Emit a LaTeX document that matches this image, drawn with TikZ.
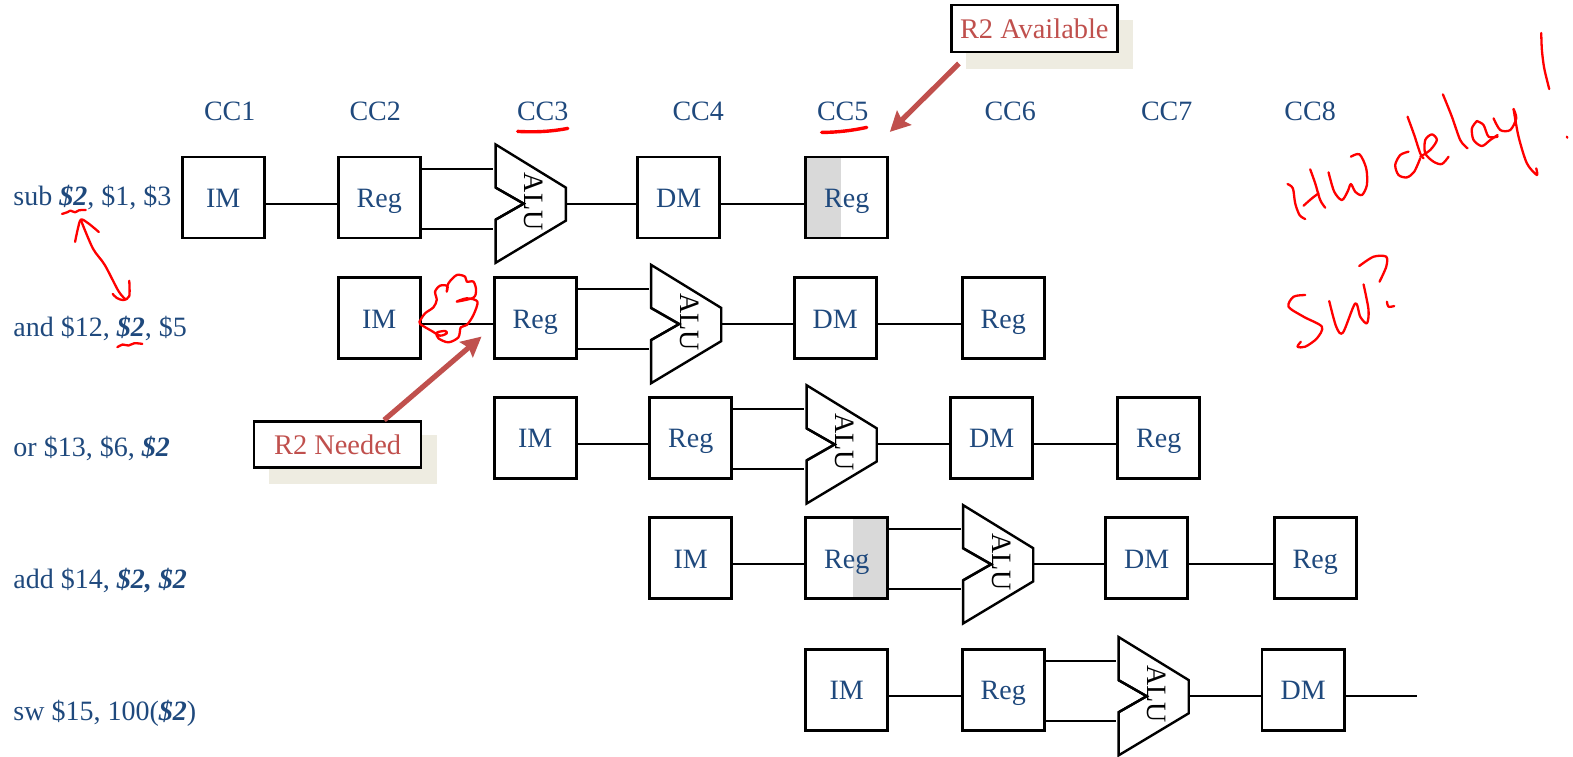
\documentclass[tikz,border=0pt]{standalone}
\usepackage{fontspec}
\setmainfont{Liberation Serif}
\usetikzlibrary{calc,arrows.meta}
\definecolor{txtblue}{HTML}{1F497D}
\definecolor{rednote}{HTML}{C0504D}
\definecolor{shadowc}{HTML}{EEECE1}
\definecolor{greyfill}{HTML}{D9D9D9}
\tikzset{
  x=0.5015pt,y=-0.5015pt,
  pipebox/.style={draw=black,line width=1.35pt,fill=white,minimum width=41pt,minimum height=40.5pt,inner sep=0pt},
  boxtext/.style={text=txtblue,font=\fontsize{14}{16}\selectfont,inner sep=0pt,anchor=base},
  shadeleft/.style={path picture={\fill[greyfill] (path picture bounding box.north west) rectangle ([xshift=17.5pt]path picture bounding box.south west);}},
  shaderight/.style={path picture={\fill[greyfill] ([xshift=-17.5pt]path picture bounding box.north east) rectangle (path picture bounding box.south east);}},
  wire/.style={draw=black,line width=1pt},
  alubox/.style={minimum width=35pt,minimum height=59pt,inner sep=0pt},
  aluline/.style={line width=1.2pt,line join=miter},
  alutext/.style={rotate=-90,font=\fontsize{14}{16}\selectfont,inner sep=0pt},
  cclabel/.style={text=txtblue,font=\fontsize{14}{16}\selectfont,inner sep=0pt},
  rowlabel/.style={text=txtblue,font=\fontsize{14}{16}\selectfont,inner sep=0pt,anchor=base west},
  notebox/.style={draw=black,line width=1.35pt,fill=white,text=rednote,font=\fontsize{14.2}{16}\selectfont,inner sep=0pt},
  shadowbox/.style={fill=shadowc,inner sep=0pt},
  notearrow/.style={draw=rednote,line width=2.6pt,-{Stealth[length=10pt,width=10pt,inset=1.5pt]}},
  ink/.style={draw=red,line width=1.15pt,line cap=round,line join=round},
  inkthick/.style={draw=red,line width=1.7pt,line cap=round},
}
\newcommand{\bx}[3]{\node[pipebox] (#1) at (#2,#3) {};}
\newcommand{\alushape}[3]{%
  \node[alubox] (#1) at (#2,#3) {};
  \draw[aluline,fill=white]
    ($(#1.center)+(-35,-59)$) -- ($(#1.center)+(35,-16)$) -- ($(#1.center)+(35,17)$)
    -- ($(#1.center)+(-35,59)$) -- ($(#1.center)+(-35,16)$) -- ($(#1.center)+(-7,0)$)
    -- ($(#1.center)+(-35,-16)$) -- cycle;
  \node[alutext] (#1t) at ($(#1.center)+(3,-2)$) {ALU};
  \draw[aluline] ($(#1.center)+(-35,16)$) -- ($(#1.center)+(-7,0)$) -- ($(#1.center)+(-35,-16)$);
}
\newcommand{\stage}[2]{\draw[wire] ($(#1.east)+(0,6)$) -- ($(#2.west)+(0,6)$);}
\newcommand{\aluout}[2]{\draw[wire] (#1.east) -- (#1.east -| #2.west);}
\newcommand{\regalu}[2]{%
  \coordinate (#2up) at ($(#1.east)+(0,-29)$);
  \coordinate (#2dn) at ($(#1.east)+(0,31)$);
  \draw[wire,shorten >=1pt] (#2up) -- (#2up -| #2.west);
  \draw[wire,shorten >=1pt] (#2dn) -- (#2dn -| #2.west);}
\begin{document}
\begin{tikzpicture}
\useasboundingbox (0,0) rectangle (1568,754);
% column labels
\node[cclabel] (cc1) at (229,111) {CC1};
\node[cclabel] (cc2) at (374,111) {CC2};
\node[cclabel] (cc3) at (541,111) {CC3};
\node[cclabel] (cc4) at (696,111) {CC4};
\node[cclabel] (cc5) at (840,111) {CC5};
\node[cclabel] (cc6) at (1007,111) {CC6};
\node[cclabel] (cc7) at (1163,111) {CC7};
\node[cclabel] (cc8) at (1306,111) {CC8};
% row labels
\newcommand{\rr}{\textbf{\textit{\$2}}}
\node[rowlabel] (r1) at (13,205) {sub \rr, \$1, \$3};
\node[rowlabel] (r2) at (13,335) {and \$12, \rr, \$5};
\node[rowlabel] (r3) at (13,455) {or \$13, \$6, \rr};
\node[rowlabel] (r4) at (13,587) {add \$14, \textbf{\textit{\$2, \$2}}};
\node[rowlabel] (r5) at (13,718) {sw \$15, 100(\rr)};
% row 1
\bx{im1}{222.5}{197}
\bx{reg1}{378}{197}
\alushape{alu1}{529}{203}
\bx{dm1}{676.5}{197}
\node[pipebox,shadeleft] (wb1) at (844,197) {};
% row 2
\bx{im2}{378}{317}
\bx{reg2}{533.5}{317}
\alushape{alu2}{684}{323}
\bx{dm2}{832.5}{317}
\bx{wb2}{1000}{317}
% row 3
\bx{im3}{533.5}{436.5}
\bx{reg3}{688.5}{436.5}
\alushape{alu3}{839}{443}
\bx{dm3}{988.5}{436.5}
\bx{wb3}{1155}{436.5}
% row 4
\bx{im4}{688.5}{556.5}
\node[pipebox,shaderight] (reg4) at (844,556.5) {};
\alushape{alu4}{995}{562.5}
\bx{dm4}{1143}{556.5}
\bx{wb4}{1311}{556.5}
% row 5
\bx{im5}{844}{687.5}
\bx{reg5}{1000}{687.5}
\alushape{alu5}{1150}{694}
\bx{dm5}{1299}{687.5}
\coordinate (end5) at (1412,693.5);
% box texts
\foreach \n/\t in {im1/IM,reg1/Reg,dm1/DM,wb1/Reg,im2/IM,reg2/Reg,dm2/DM,wb2/Reg,im3/IM,reg3/Reg,dm3/DM,wb3/Reg,im4/IM,reg4/Reg,dm4/DM,wb4/Reg,im5/IM,reg5/Reg,dm5/DM}{
  \node[boxtext] (\n t) at ($(\n.center)+(0,10)$) {\t};
}
% wires
\stage{im1}{reg1}\regalu{reg1}{alu1}\aluout{alu1}{dm1}\stage{dm1}{wb1}
\stage{im2}{reg2}\regalu{reg2}{alu2}\aluout{alu2}{dm2}\stage{dm2}{wb2}
\stage{im3}{reg3}\regalu{reg3}{alu3}\aluout{alu3}{dm3}\stage{dm3}{wb3}
\stage{im4}{reg4}\regalu{reg4}{alu4}\aluout{alu4}{dm4}\stage{dm4}{wb4}
\stage{im5}{reg5}\regalu{reg5}{alu5}\aluout{alu5}{dm5}
\draw[wire] ($(dm5.east)+(0,6)$) -- (end5);
% notes
\node[shadowbox,minimum width=83.5pt,minimum height=24.5pt] (sa) at (1046.5,44.5) {};
\node[notebox,minimum width=83pt,minimum height=23.5pt] (na) at (1031,28.5) {R2 Available};
\node[shadowbox,minimum width=84pt,minimum height=24.5pt] (sn) at (352,458.5) {};
\node[notebox,minimum width=83.5pt,minimum height=23pt] (nn) at (336.5,443) {R2 Needed};
\coordinate (tipa) at (887,131.5);
\coordinate (tipn) at (480,335.5);
\draw[notearrow] ($(na.south west)+(9,10)$) -- (tipa);
\draw[notearrow] ($(nn.north west)+(131,0)$) -- (tipn);
% ink: underlines
\draw[inkthick] (516,131) .. controls (535,132) and (550,131) .. (566,128);
\draw[inkthick] (819,132) .. controls (835,132) and (850,130) .. (864,127);
% ink: left annotations
\begin{scope}[shift={(0,129.6)},xscale=0.394,yscale=0.328]
\draw[ink] plot[smooth] coordinates {(157,255) (170,250) (178,245) (190,250) (200,244) (217,243)};
\draw[ink] plot[smooth] coordinates {(297,660) (310,652) (325,655) (340,648) (360,650)};
\draw[ink] plot[smooth] coordinates {(190,340) (197,300) (205,272) (225,285) (250,310)};
\draw[ink] plot[smooth] coordinates {(205,275) (235,360) (265,410) (300,490) (318,515)};
\draw[ink] plot[smooth] coordinates {(327,458) (327,505) (312,517) (295,510) (285,498)};
\end{scope}
% ink: cloud
\begin{scope}[shift={(239.3,249.2)},scale=0.3323]
\draw[ink] plot[smooth,tension=0.5] coordinates {(540,212) (555,190) (580,172) (590,150) (585,125) (600,107) (622,108) (620,125) (625,100) (650,75) (675,80) (680,95) (700,95) (708,120) (700,143) (650,155) (680,145) (712,155) (700,195) (680,225) (662,232) (655,262) (625,277) (595,265) (590,248) (615,243) (620,250) (600,257) (575,243) (540,222) (540,212)};
\end{scope}
% ink: right handwriting
\begin{scope}[shift={(1256.2,39.9)},scale=0.3323]
\draw[ink] plot[smooth] coordinates {(82,432) (98,445) (105,490) (118,525) (135,537)};
\draw[ink] plot[smooth] coordinates {(130,497) (155,475) (175,460)};
\draw[ink] plot[smooth] coordinates {(150,388) (165,430) (180,480) (195,503)};
\draw[ink] plot[smooth] coordinates {(205,397) (222,455) (245,480) (262,455) (272,432) (285,455) (305,465) (320,435) (318,385) (298,343) (272,350)};
\draw[ink] plot[smooth] coordinates {(445,335) (420,345) (405,375) (415,405) (440,412) (462,395) (480,355)};
\draw[ink] plot[smooth] coordinates {(442,230) (462,285) (480,340) (490,355)};
\draw[ink] plot[smooth] coordinates {(480,350) (510,330) (530,300) (515,283) (495,300) (495,340) (520,365) (545,372) (565,350)};
\draw[ink] plot[smooth] coordinates {(548,163) (575,230) (600,300) (622,325)};
\draw[ink] plot[smooth] coordinates {(650,243) (635,265) (640,300) (665,318) (690,300) (712,285)};
\draw[ink] plot[smooth] coordinates {(650,243) (670,255) (685,290) (712,290)};
\draw[ink] plot[smooth] coordinates {(700,235) (720,270) (750,270) (768,235) (760,207)};
\draw[ink] plot[smooth] coordinates {(760,207) (775,290) (800,370) (830,405) (828,385)};
\draw[ink] plot[smooth] coordinates {(843,-21) (845,30) (852,85) (867,147)};
\draw[ink] (920,290) -- (921,293);
\draw[ink] plot[smooth] coordinates {(135,765) (100,770) (85,800) (130,830) (185,860) (170,895) (135,920) (112,920) (122,905)};
\draw[ink] plot[smooth] coordinates {(207,783) (228,860) (248,878) (285,790) (300,830) (320,850) (325,810) (310,733)};
\draw[ink] plot[smooth] coordinates {(297,678) (340,650) (378,650) (378,680) (358,725)};
\draw[ink] plot[smooth] coordinates {(380,785) (385,800) (402,798)};
\end{scope}
\end{tikzpicture}
\end{document}
